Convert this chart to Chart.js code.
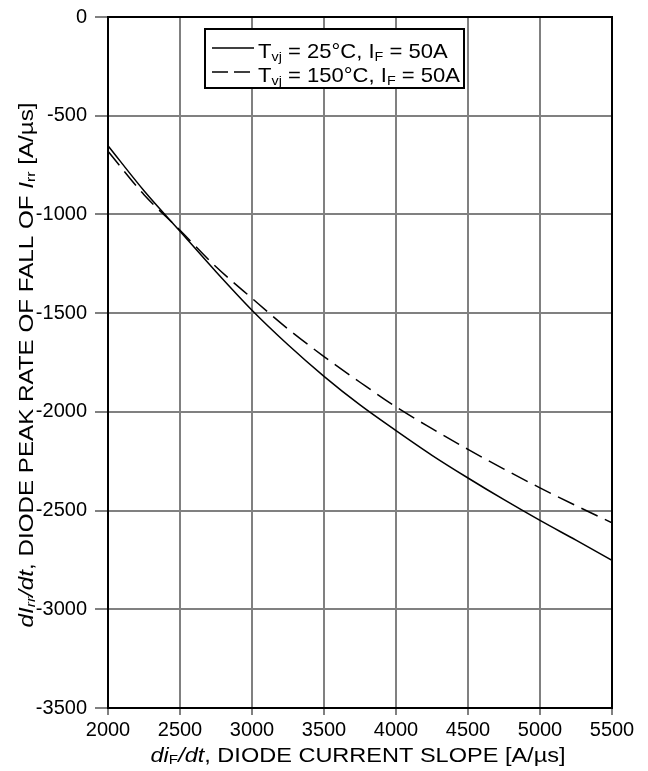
<!DOCTYPE html>
<html lang="en">
  <head>
    <meta charset="UTF-8" />
    <title>dIrr/dt</title>
    <script src="https://cdn.jsdelivr.net/npm/chart.js"></script>
    <style>
      html, body { margin: 0; padding: 0; background: #fff; }
      #wrap { width: 648px; height: 771px; }
    </style>
  </head>
  <body>
    <div id="wrap">
      <canvas id="myChart"></canvas>
    </div>

    <script>
      // di_F/dt values (x axis)
      const slopes = [2000, 2250, 2500, 2750, 3000, 3250, 3500, 3750, 4000, 4250, 4500, 4750, 5000, 5250, 5500];
      // Tvj = 25°C
      const fall25 = [-652, -880, -1085, -1290, -1485, -1660, -1820, -1965, -2095, -2220, -2335, -2445, -2550, -2650, -2752];
      // Tvj = 150°C
      const fall150 = [-680, -900, -1080, -1265, -1425, -1580, -1720, -1850, -1975, -2085, -2190, -2290, -2385, -2475, -2562];

      const FONT = "'Liberation Sans', Arial, sans-serif";

      // text made of pieces (italic / subscript)
      function richWidth(ctx, parts, size) {
        let w = 0;
        parts.forEach(p => {
          const s = p.sub ? size * 0.65 : size;
          ctx.font = (p.it ? "italic " : "") + s + "px " + FONT;
          w += ctx.measureText(p.t).width;
        });
        return w;
      }
      function richText(ctx, parts, x, y, size) {
        ctx.textBaseline = "alphabetic";
        ctx.textAlign = "left";
        parts.forEach(p => {
          const s = p.sub ? size * 0.65 : size;
          ctx.font = (p.it ? "italic " : "") + s + "px " + FONT;
          ctx.fillText(p.t, x, y + (p.sub ? size * 0.12 : 0));
          x += ctx.measureText(p.t).width;
        });
      }
      // draw stretched so that it spans "target" px, centred on (cx, by)
      function richFit(ctx, parts, cx, by, size, target) {
        const w = richWidth(ctx, parts, size);
        const k = target / w;
        ctx.save();
        ctx.translate(cx, by);
        ctx.scale(k, 1);
        richText(ctx, parts, -w / 2, 0, size);
        ctx.restore();
      }

      const yTitle = [
        { t: "d", it: true }, { t: "I", it: true }, { t: "rr", it: true, sub: true },
        { t: "/dt", it: true }, { t: ", DIODE PEAK RATE OF FALL OF " },
        { t: "I", it: true }, { t: "rr", sub: true }, { t: " [A/\u00b5s]" },
      ];
      const xTitle = [
        { t: "di", it: true }, { t: "F", sub: true }, { t: "/dt", it: true },
        { t: ", DIODE CURRENT SLOPE [A/\u00b5s]" },
      ];
      const legendRows = [
        { dash: [], parts: [{ t: "T" }, { t: "vj", sub: true }, { t: " = 25\u00b0C, I" }, { t: "F", sub: true }, { t: " = 50A" }] },
        { dash: [16, 6], parts: [{ t: "T" }, { t: "vj", sub: true }, { t: " = 150\u00b0C, I" }, { t: "F", sub: true }, { t: " = 50A" }] },
      ];

      const extras = {
        id: "extras",
        afterDraw(chart) {
          const ctx = chart.ctx;
          const a = chart.chartArea;
          ctx.save();
          ctx.fillStyle = "#000";
          // x title
          richFit(ctx, xTitle, 358, 762, 20, 415);
          // y title
          ctx.save();
          ctx.translate(33, 365);
          ctx.rotate(-Math.PI / 2);
          richFit(ctx, yTitle, 0, 0, 20, 525);
          ctx.restore();
          // legend box
          ctx.fillStyle = "#fff";
          ctx.fillRect(205, 29, 259, 59);
          ctx.strokeStyle = "#000";
          ctx.lineWidth = 2;
          ctx.strokeRect(205, 29, 259, 59);
          ctx.fillStyle = "#000";
          const k = 202 / richWidth(ctx, legendRows[1].parts, 21);
          legendRows.forEach((r, i) => {
            const cy = 48 + i * 24;
            ctx.beginPath();
            ctx.setLineDash(r.dash);
            ctx.lineWidth = 1.5;
            ctx.moveTo(212, cy);
            ctx.lineTo(254, cy);
            ctx.stroke();
            ctx.setLineDash([]);
            ctx.save();
            ctx.translate(258, 58 + i * 24);
            ctx.scale(k, 1);
            richText(ctx, r.parts, 0, 0, 21);
            ctx.restore();
          });
          // frame
          ctx.lineWidth = 2;
          ctx.strokeRect(a.left, a.top, a.right - a.left, a.bottom - a.top);
          ctx.restore();
        },
      };

      const data = {
        labels: slopes,
        datasets: [
          {
            label: "Tvj = 25°C, IF = 50A",
            data: slopes.map((x, i) => ({ x: x, y: fall25[i] })),
            borderColor: "#000",
            borderWidth: 1.5,
            pointRadius: 0,
            cubicInterpolationMode: "monotone",
          },
          {
            label: "Tvj = 150°C, IF = 50A",
            data: slopes.map((x, i) => ({ x: x, y: fall150[i] })),
            borderColor: "#000",
            borderWidth: 1.5,
            borderDash: [18, 8],
            pointRadius: 0,
            cubicInterpolationMode: "monotone",
          },
        ],
      };

      const config = {
        type: "line",
        data: data,
        options: {
          responsive: true,
          maintainAspectRatio: false,
          animation: false,
          layout: { padding: { left: 0, right: 36, top: 10, bottom: 0 } },
          plugins: { legend: { display: false }, tooltip: { enabled: false } },
          scales: {
            x: {
              type: "linear",
              min: 2000,
              max: 5500,
              ticks: { stepSize: 500, color: "#000", font: { family: FONT, size: 20 }, maxRotation: 0, padding: 3, callback: v => String(v) },
              grid: { color: "#808080", lineWidth: 2, tickLength: 7 },
              border: { color: "#000", width: 2 },
              afterFit(s) { s.height = 63; },
            },
            y: {
              min: -3500,
              max: 0,
              ticks: { stepSize: 500, color: "#000", font: { family: FONT, size: 20, lineHeight: 0.9 }, padding: 8, callback: v => String(v) },
              grid: { color: "#808080", lineWidth: 2, tickLength: 13 },
              border: { color: "#000", width: 2 },
              afterFit(s) { s.width = 108; },
            },
          },
        },
        plugins: [extras],
      };

      const myChart = new Chart(document.getElementById("myChart"), config);
    </script>
  </body>
</html>
